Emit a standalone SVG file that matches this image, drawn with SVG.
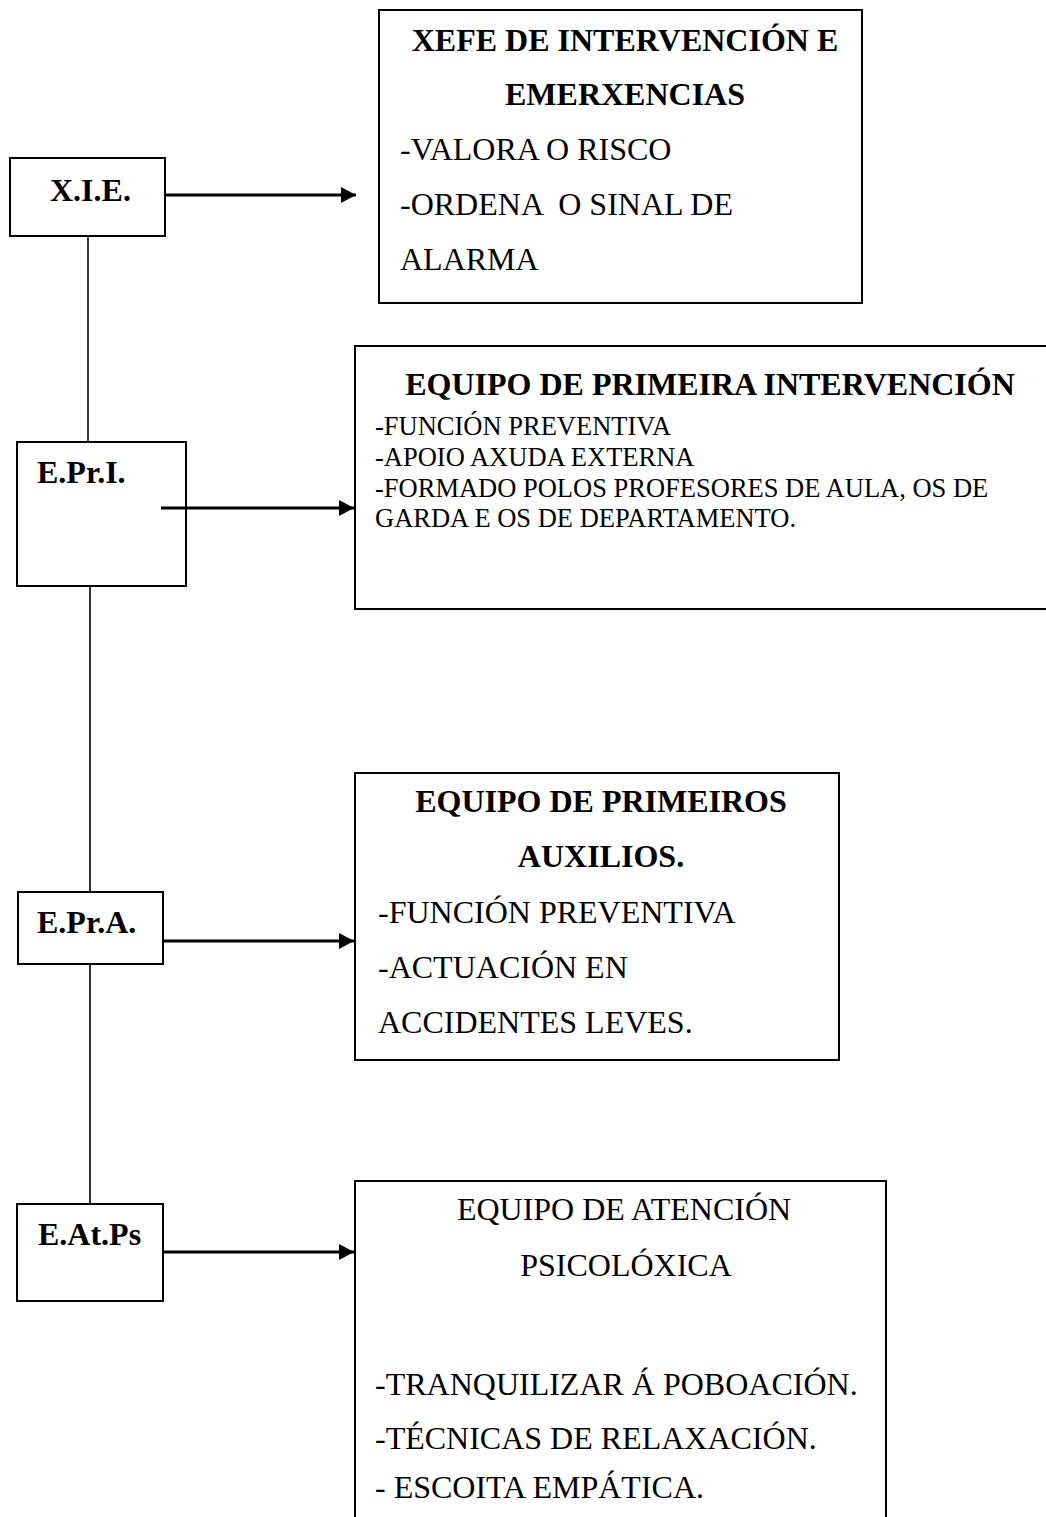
<svg xmlns="http://www.w3.org/2000/svg" width="1046" height="1517" viewBox="0 0 1046 1517">
<defs>
<marker id="ah" markerUnits="userSpaceOnUse" markerWidth="16" markerHeight="16" refX="15" refY="8" orient="auto">
<path d="M0,0 L15,8 L0,16 z" fill="#000"/>
</marker>
<style>
.box{fill:#fff;stroke:#000;stroke-width:2}
.lbl{font-family:"Liberation Serif","Times New Roman",serif;font-weight:bold;font-size:32px;fill:#000}
.ttl{font-family:"Liberation Serif","Times New Roman",serif;font-weight:bold;font-size:32px;fill:#000;text-anchor:middle}
.ttr{font-family:"Liberation Serif","Times New Roman",serif;font-size:32px;fill:#000;text-anchor:middle}
.txt{font-family:"Liberation Serif","Times New Roman",serif;font-size:32px;fill:#000}
.sml{font-family:"Liberation Serif","Times New Roman",serif;font-size:26.5px;fill:#000}
.vl{stroke:#000;stroke-width:1.6;fill:none}
.ar{stroke:#000;stroke-width:2.8;fill:none;marker-end:url(#ah)}
</style>
</defs>
<rect width="1046" height="1517" fill="#fff"/>
<g id="xie">
<rect class="box" x="10" y="158" width="155" height="78"/>
<text class="lbl" x="50" y="201">X.I.E.</text>
</g>
<g id="xie-info">
<rect class="box" x="379" y="10" width="483" height="293"/>
<text class="ttl" x="625" y="51">XEFE DE INTERVENCIÓN E</text>
<text class="ttl" x="625" y="105">EMERXENCIAS</text>
<text class="txt" x="400" y="160">-VALORA O RISCO</text>
<text class="txt" x="400" y="215" xml:space="preserve">-ORDENA  O SINAL DE</text>
<text class="txt" x="400" y="270">ALARMA</text>
</g>
<g id="epri">
<rect class="box" x="17" y="442" width="169" height="144"/>
<text class="lbl" x="37" y="483">E.Pr.I.</text>
</g>
<g id="epri-info">
<rect class="box" x="355" y="346" width="695" height="263"/>
<text class="ttl" x="710" y="395">EQUIPO DE PRIMEIRA INTERVENCIÓN</text>
<text class="sml" x="375" y="435">-FUNCIÓN PREVENTIVA</text>
<text class="sml" x="375" y="466">-APOIO AXUDA EXTERNA</text>
<text class="sml" x="375" y="497">-FORMADO POLOS PROFESORES DE AULA, OS DE</text>
<text class="sml" x="375" y="527">GARDA E OS DE DEPARTAMENTO.</text>
</g>
<g id="epra">
<rect class="box" x="18" y="892" width="145" height="72"/>
<text class="lbl" x="37" y="933">E.Pr.A.</text>
</g>
<g id="epra-info">
<rect class="box" x="355" y="773" width="484" height="287"/>
<text class="ttl" x="601" y="812">EQUIPO DE PRIMEIROS</text>
<text class="ttl" x="601" y="867">AUXILIOS.</text>
<text class="txt" x="378" y="923">-FUNCIÓN PREVENTIVA</text>
<text class="txt" x="378" y="978">-ACTUACIÓN EN</text>
<text class="txt" x="378" y="1033">ACCIDENTES LEVES.</text>
</g>
<g id="eatps">
<rect class="box" x="17" y="1204" width="146" height="97"/>
<text class="lbl" x="38" y="1245">E.At.Ps</text>
</g>
<g id="eatps-info">
<rect class="box" x="355" y="1181" width="531" height="360"/>
<text class="ttr" x="624" y="1220">EQUIPO DE ATENCIÓN</text>
<text class="ttr" x="626" y="1276">PSICOLÓXICA</text>
<text class="txt" x="375" y="1395">-TRANQUILIZAR Á POBOACIÓN.</text>
<text class="txt" x="375" y="1449">-TÉCNICAS DE RELAXACIÓN.</text>
<text class="txt" x="375" y="1498">- ESCOITA EMPÁTICA.</text>
</g>
<g id="connectors">
<line class="vl" x1="88" y1="237" x2="88" y2="441"/>
<line class="vl" x1="90" y1="587" x2="90" y2="891"/>
<line class="vl" x1="90" y1="965" x2="90" y2="1203"/>
<line class="ar" x1="166" y1="195" x2="356" y2="195"/>
<line class="ar" x1="161" y1="508" x2="354" y2="508"/>
<line class="ar" x1="164" y1="941" x2="354" y2="941"/>
<line class="ar" x1="164" y1="1252" x2="354" y2="1252"/>
</g>
</svg>
